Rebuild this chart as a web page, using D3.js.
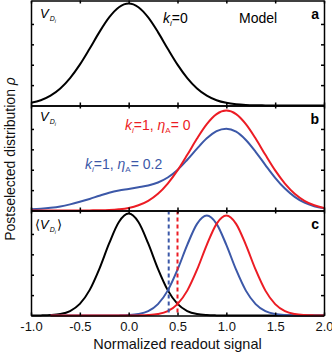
<!DOCTYPE html>
<html>
<head>
<meta charset="utf-8">
<script src="https://cdn.jsdelivr.net/npm/d3@7"></script>
<style>
  body { margin: 0; background: #fff; }
  svg { display: block; }
</style>
</head>
<body>
<section></section>
<script>
// readout axis samples (normalized signal)
const readout = [-1.0, -0.9, -0.8, -0.7, -0.6, -0.5, -0.4, -0.3, -0.2, -0.1,
  0.0, 0.1, 0.2, 0.3, 0.4, 0.5, 0.6, 0.7, 0.8, 0.9,
  1.0, 1.1, 1.2, 1.3, 1.4, 1.5, 1.6, 1.7, 1.8, 1.9, 2.0];

// panel a: k_i = 0
const aBlack = [0.026, 0.052, 0.097, 0.167, 0.269, 0.401, 0.557, 0.720, 0.864, 0.964,
  1.000, 0.964, 0.864, 0.720, 0.557, 0.401, 0.269, 0.167, 0.097, 0.052,
  0.026, 0.012, 0.005, 0.002, 0.001, 0, 0, 0, 0, 0, 0];

// panel b: k_i = 1, eta_A = 0 (red) and eta_A = 0.2 (blue)
const bRed = [0, 0, 0, 0, 0, 0, 0.001, 0.002, 0.005, 0.012,
  0.025, 0.051, 0.095, 0.164, 0.264, 0.393, 0.546, 0.706, 0.847, 0.945,
  0.980, 0.945, 0.847, 0.706, 0.546, 0.393, 0.264, 0.164, 0.095, 0.051, 0.025];
const bBlue = [0.012, 0.018, 0.027, 0.040, 0.060, 0.085, 0.113, 0.145, 0.175, 0.197,
  0.212, 0.228, 0.245, 0.275, 0.324, 0.398, 0.498, 0.607, 0.708, 0.779,
  0.803, 0.773, 0.692, 0.576, 0.446, 0.321, 0.215, 0.134, 0.077, 0.042, 0.021];

// panel c: averaged signal
const cBlack = [0, 0.001, 0.004, 0.014, 0.044, 0.114, 0.249, 0.458, 0.707, 0.917,
  1.000, 0.917, 0.707, 0.458, 0.249, 0.114, 0.044, 0.014, 0.004, 0.001,
  0, 0, 0, 0, 0, 0, 0, 0, 0, 0, 0];
const cBlue = [null, null, 0, 0, 0, 0, 0, 0, 0, 0.001,
  0.004, 0.014, 0.043, 0.112, 0.244, 0.449, 0.693, 0.899, 0.980, 0.899,
  0.693, 0.449, 0.244, 0.112, 0.043, 0.014, 0.004, 0.001, 0, 0, 0];
const cRed = [null, null, 0, 0, 0, 0, 0, 0, 0, 0,
  0, 0.001, 0.004, 0.014, 0.043, 0.112, 0.244, 0.449, 0.693, 0.899,
  0.980, 0.899, 0.693, 0.449, 0.244, 0.112, 0.043, 0.014, 0.004, 0.001, 0];

// thresholds in panel c
const thresholds = [0.41, 0.5];

const xTicks = [-1.0, -0.5, 0.0, 0.5, 1.0, 1.5, 2.0];
const yTicks = [0.2, 0.4, 0.6, 0.8];

const red = '#ec1c24';
const blue = '#3c58a8';

const width = 332;
const height = 355;
const left = 31;
const right = 324;
const panelTops = [0.5, 105.5, 210.5];
const panelH = 105;

const svg = d3.select('section')
  .append('svg')
  .attr('width', width)
  .attr('height', height)
  .style('font-family', 'Arial, "Liberation Sans", Helvetica, sans-serif');

const x = d3.scaleLinear().domain([-1, 2]).range([left, right]);
const y = d3.scaleLinear().domain([0, 1.03]).range([panelH, 0]);

const line = d3.line()
  .defined((d) => d[1] !== null)
  .x((d) => x(d[0]))
  .y((d) => y(d[1]))
  .curve(d3.curveMonotoneX);

const pairs = (vals) => readout.map((r, i) => [r, vals[i]]);

const panels = [
  { curves: [[aBlack, '#000']] },
  { curves: [[bBlue, blue], [bRed, red]] },
  { curves: [[cBlack, '#000'], [cBlue, blue], [cRed, red]] }
];

panels.forEach((p, i) => {
  const g = svg.append('g').attr('transform', `translate(0, ${panelTops[i]})`);
  p.g = g;

  p.curves.forEach(([vals, color]) => {
    g.append('path')
      .datum(pairs(vals))
      .attr('fill', 'none')
      .attr('stroke', color)
      .attr('stroke-width', 2)
      .attr('d', line);
  });

  if (i === 2) {
    g.selectAll('.thr')
      .data(thresholds)
      .enter()
      .append('line')
      .attr('x1', (d) => x(d))
      .attr('x2', (d) => x(d))
      .attr('y1', 0)
      .attr('y2', panelH)
      .attr('stroke', (d, j) => (j === 0 ? blue : red))
      .attr('stroke-width', 2)
      .attr('stroke-dasharray', '4,3');
  }

  // axes (ticks inward)
  const bottom = d3.axisBottom(x).tickValues(xTicks).tickSize(-3).tickSizeOuter(0)
    .tickPadding(6)
    .tickFormat(i === 2 ? (d) => d.toFixed(1) : '');
  const top = d3.axisTop(x).tickValues(xTicks).tickSize(-3).tickSizeOuter(0).tickFormat('');
  const leftAx = d3.axisLeft(y).tickValues(yTicks).tickSize(-3).tickSizeOuter(0).tickFormat('');
  const rightAx = d3.axisRight(y).tickValues(yTicks).tickSize(-3).tickSizeOuter(0).tickFormat('');

  g.append('g').attr('class', 'ax').attr('transform', `translate(0, ${panelH})`).call(bottom);
  g.append('g').attr('class', 'ax').call(top);
  g.append('g').attr('class', 'ax').attr('transform', `translate(${left}, 0)`).call(leftAx);
  g.append('g').attr('class', 'ax').attr('transform', `translate(${right}, 0)`).call(rightAx);
});

svg.selectAll('.ax path, .ax line')
  .attr('stroke', '#000')
  .attr('stroke-width', 1.5);
svg.selectAll('.ax text')
  .attr('font-size', 13)
  .attr('font-family', 'Arial, "Liberation Sans", Helvetica, sans-serif')
  .attr('fill', '#111');

// V_{D_i} labels
const vLabel = (g, yb, brackets) => {
  const t = g.append('text').attr('x', brackets ? 35 : 40).attr('y', yb).attr('fill', '#000');
  if (brackets) t.append('tspan').attr('font-size', 13).text('\u27E8');
  t.append('tspan').attr('font-size', 13).attr('font-style', 'italic').text('V');
  t.append('tspan').attr('font-size', 7).attr('font-style', 'italic').attr('dy', 3).attr('dx', 1).text('D');
  t.append('tspan').attr('font-size', 5).attr('font-style', 'italic').attr('dy', 2).text('i');
  if (brackets) t.append('tspan').attr('font-size', 13).attr('dy', -5).attr('dx', 1).text('\u27E9');
};
vLabel(panels[0].g, 17.5, false);
vLabel(panels[1].g, 15.5, false);
vLabel(panels[2].g, 18, true);

// panel letters
['a', 'b', 'c'].forEach((l, i) => {
  panels[i].g.append('text')
    .attr('x', 319).attr('y', 18)
    .attr('text-anchor', 'end')
    .attr('font-size', 14)
    .attr('font-weight', 'bold')
    .text(l);
});

// k_i labels
const kLabel = (g, xPos, yb, color, eta) => {
  const t = g.append('text').attr('x', xPos).attr('y', yb).attr('fill', color).attr('font-size', 14);
  t.append('tspan').attr('font-style', 'italic').text('k');
  t.append('tspan').attr('font-style', 'italic').attr('font-size', 8).attr('dy', 3).text('i');
  t.append('tspan').attr('dy', -3).text(eta === null ? '=0' : '=1, ');
  if (eta !== null) {
    t.append('tspan').attr('font-style', 'italic').text('\u03B7');
    t.append('tspan').attr('font-size', 8).attr('dy', 3).text('A');
    t.append('tspan').attr('dy', -3).text('= ' + eta);
  }
};
kLabel(panels[0].g, 163, 22.5, '#000', null);
kLabel(panels[1].g, 125, 24.5, red, '0');
kLabel(panels[1].g, 85, 63.5, blue, '0.2');

panels[0].g.append('text')
  .attr('x', 239).attr('y', 22.5)
  .attr('font-size', 14)
  .text('Model');

// axis titles
svg.append('text')
  .attr('x', (left + right) / 2)
  .attr('y', 349)
  .attr('text-anchor', 'middle')
  .attr('font-size', 14.5)
  .attr('fill', '#111')
  .text('Normalized readout signal');

const yTitle = svg.append('text')
  .attr('transform', 'translate(15, 159) rotate(-90)')
  .attr('text-anchor', 'middle')
  .attr('font-size', 14)
  .attr('fill', '#111');
yTitle.append('tspan').text('Postselected distribution ');
yTitle.append('tspan').attr('font-style', 'italic').text('\u03C1');
</script>
</body>
</html>
